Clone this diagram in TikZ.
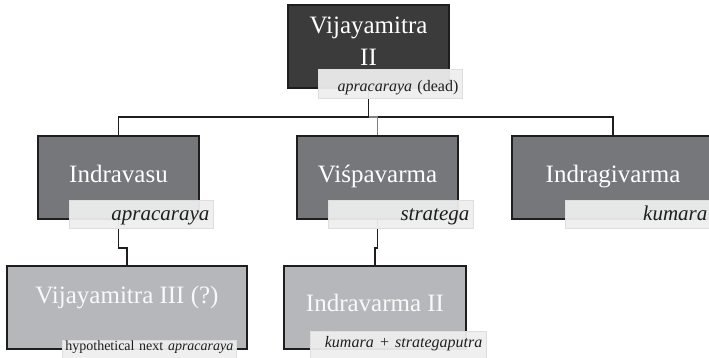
\documentclass[tikz,border=0pt]{standalone}
\usepackage{fontspec}
\setmainfont{Liberation Serif}
\usetikzlibrary{calc}
\usepackage{xcolor}
\definecolor{topo}{HTML}{3B3B3B}
\definecolor{meio}{HTML}{76777B}
\definecolor{baixo}{HTML}{B6B7BA}
\definecolor{tagfill}{HTML}{EEEEEE}
\definecolor{tagline}{HTML}{DEDEDE}
\definecolor{linha}{HTML}{1E1E1E}
\definecolor{cinza}{HTML}{808080}

\begin{document}
\begin{tikzpicture}[x=1pt,y=-1pt,
    box/.style={draw=linha, line width=1.8pt, inner sep=0pt, minimum height=83pt},
    nome/.style={inner sep=0pt, text=white, font=\fontsize{25}{32}\selectfont, text height=17pt, text depth=5pt},
    tag/.style={draw=tagline, fill=tagfill, fill opacity=0.94, text opacity=1, line width=1.3pt,
        inner xsep=4pt, inner ysep=0pt, anchor=north east, align=right, text=linha,
        font=\fontsize{21}{24}\selectfont\itshape, text height=20pt, text depth=8pt},
    link/.style={draw=linha, line width=1.7pt}]
    \useasboundingbox (0,0) rectangle (709,357);
    % Caixas
    \node[box, fill=topo, minimum width=161pt] (vii) at (368.5,46.5) {};
    \node[box, fill=meio, minimum width=161pt] (indravasu) at (118.5,177.5) {};
    \node[box, fill=meio, minimum width=161pt] (vispa) at (377.5,177.5) {};
    \node[box, fill=meio, minimum width=202pt] (indragi) at (613,177.5) {};
    \node[box, fill=baixo, minimum width=240pt] (viii) at (127,307.5) {};
    \node[box, fill=baixo, minimum width=182pt] (indravarma) at (375,307.5) {};
    % Nomes
    \node[nome, align=center, text height=, text depth=] (viiNome) at (368.5,41) {Vijayamitra\\II};
    \node[nome] (indravasuNome) at (118.5,176) {Indravasu};
    \node[nome] (vispaNome) at (377.5,176) {Viśpavarma};
    \node[nome] (indragiNome) at (613,176) {Indragivarma};
    \node[nome, text=white!92!baixo] (viiiNome) at (127,297.5) {Vijayamitra III (?)};
    \node[nome, text=white!92!baixo] (indravarmaNome) at (375,305.5) {Indravarma II};
    % Ligacoes
    \draw[link] (vii.south) -- ++(0,28) -| (indravasu.north);
    \draw[link] (vii.south) -- ++(0,28) -| (indragi.north);
    \draw[link, draw=cinza] ($(vii.south)+(0,28)$) -| (vispa.north);
    \draw[link] (indravasu.south) -- ++(0,28) -| (viii.north);
    \draw[link] (vispa.south) -- ++(0,28) -| (indravarma.north);
    % Titulos
    \node[tag, text width=136pt, font=\fontsize{16}{19}\selectfont, text height=22pt, text depth=7pt] (viiTag) at (463,69) {\textit{apracaraya} (dead)};
    \node[tag, text width=136pt] (indravasuTag) at (214,200) {apracaraya};
    \node[tag, text width=137pt] (vispaTag) at (474,200) {stratega};
    \node[tag, text width=138pt] (indragiTag) at (712,200) {kumara};
    \node[tag, inner xsep=1pt, text width=172pt, align=center, font=\fontsize{14}{17}\selectfont, text height=10pt, text depth=20pt] (viiiTag) at (237,340) {hypothetical next \textit{apracaraya}};
    \node[tag, text width=168pt, font=\fontsize{16}{19}\selectfont\itshape, text height=16pt, text depth=13pt] (indravarmaTag) at (487,331) {kumara + strategaputra};
\end{tikzpicture}
\end{document}
